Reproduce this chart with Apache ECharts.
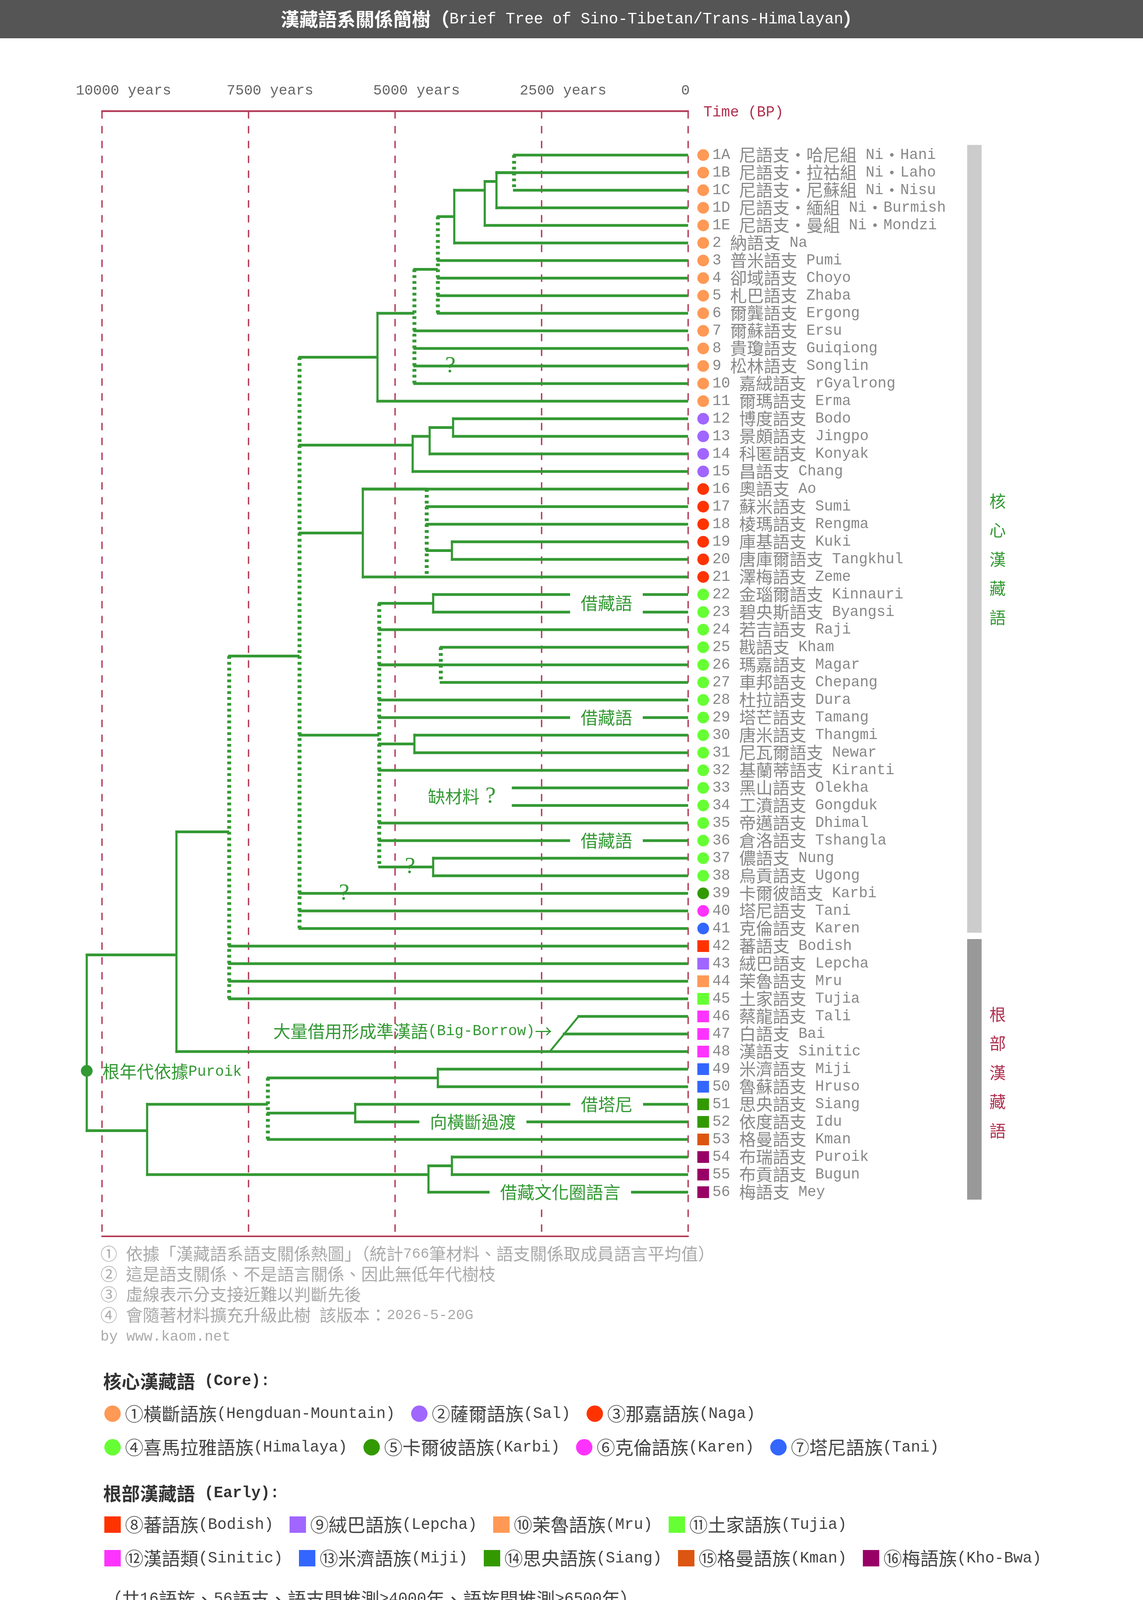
<!DOCTYPE html>
<html><head><meta charset="utf-8">
<script src="https://cdn.jsdelivr.net/npm/echarts@6/dist/echarts.min.js"></script>
<style>html,body{margin:0;padding:0;background:#fff}#c{width:2925px;height:4276px}</style>
</head><body><div id="c"></div>
<script>
// ================= DATA =================
const timeTicks = [0, 2500, 5000, 7500, 10000];   // years BP
const leafCodes = ['1A','1B','1C','1D','1E','2','3','4','5','6','7','8','9','10','11','12','13','14','15','16','17','18','19','20','21','22','23','24','25','26','27','28','29','30','31','32','33','34','35','36','37','38','39','40','41','42','43','44','45','46','47','48','49','50','51','52','53','54','55','56'];
const leafZh = ['尼語支・哈尼組','尼語支・拉祜組','尼語支・尼蘇組','尼語支・緬組','尼語支・曼組','納語支','普米語支','卻域語支','札巴語支','爾龔語支','爾蘇語支','貴瓊語支','松林語支','嘉絨語支','爾瑪語支','博度語支','景頗語支','科匿語支','昌語支','奧語支','蘇米語支','棱瑪語支','庫基語支','唐庫爾語支','澤梅語支','金瑙爾語支','碧央斯語支','若吉語支','戡語支','瑪嘉語支','車邦語支','杜拉語支','塔芒語支','唐米語支','尼瓦爾語支','基蘭蒂語支','黑山語支','工濆語支','帝邁語支','倉洛語支','儂語支','烏貢語支','卡爾彼語支','塔尼語支','克倫語支','蕃語支','絨巴語支','茉魯語支','土家語支','蔡龍語支','白語支','漢語支','米濟語支','魯蘇語支','思央語支','依度語支','格曼語支','布瑞語支','布貢語支','梅語支'];
const leafEn = ['Ni・Hani','Ni・Laho','Ni・Nisu','Ni・Burmish','Ni・Mondzi','Na','Pumi','Choyo','Zhaba','Ergong','Ersu','Guiqiong','Songlin','rGyalrong','Erma','Bodo','Jingpo','Konyak','Chang','Ao','Sumi','Rengma','Kuki','Tangkhul','Zeme','Kinnauri','Byangsi','Raji','Kham','Magar','Chepang','Dura','Tamang','Thangmi','Newar','Kiranti','Olekha','Gongduk','Dhimal','Tshangla','Nung','Ugong','Karbi','Tani','Karen','Bodish','Lepcha','Mru','Tujia','Tali','Bai','Sinitic','Miji','Hruso','Siang','Idu','Kman','Puroik','Bugun','Mey'];
// colour group (index into families) of each leaf, as drawn
const leafFamily = [0,0,0,0,0,0,0,0,0,0,0,0,0,0,0, 1,1,1,1, 2,2,2,2,2,2, 3,3,3,3,3,3,3,3,3,3,3,3,3,3,3,3,3, 4,5,6, 7,8,9,10, 11,11,11, 12,12, 13,13, 14, 15,15,15];
const familyNames = ['①橫斷語族(Hengduan-Mountain)','②薩爾語族(Sal)','③那嘉語族(Naga)','④喜馬拉雅語族(Himalaya)','⑤卡爾彼語族(Karbi)','⑥克倫語族(Karen)','⑦塔尼語族(Tani)','⑧蕃語族(Bodish)','⑨絨巴語族(Lepcha)','⑩茉魯語族(Mru)','⑪土家語族(Tujia)','⑫漢語類(Sinitic)','⑬米濟語族(Miji)','⑭思央語族(Siang)','⑮格曼語族(Kman)','⑯梅語族(Kho-Bwa)'];
const familyIsCore = [1,1,1,1,1,1,1,0,0,0,0,0,0,0,0,0];
// internal nodes: [id, age (years BP), span top row, span bottom row, join row, parent id, dotted]
const nodes = [
  ['root', 10260, 45.5, 55.5, null, null, 0],
  ['nS', 8730, 38.5, 51, 45.5, 'root', 0],
  ['nT', 9230, 54, 58, 55.5, 'root', 0],
  ['nR', 7830, 28.5, 48, 38.5, 'nS', 1],
  ['nH', 6630, 11.5, 44, 28.5, 'nR', 1],
  ['nG', 5300, 9, 14, 11.5, 'nH', 0],
  ['nF', 4670, 6.5, 13, 9, 'nG', 1],
  ['nE', 4270, 3.5, 9, 6.5, 'nF', 1],
  ['nD', 3990, 2, 5, 3.5, 'nE', 0],
  ['nC', 3470, 1.5, 4, 2, 'nD', 0],
  ['nB', 3270, 1, 3, 1.5, 'nC', 0],
  ['nA', 2970, 0, 2, 1, 'nB', 1],
  ['nK', 4700, 16, 18, 16.5, 'nH', 0],
  ['nJ', 4410, 15.5, 17, 16, 'nK', 0],
  ['nI', 4010, 15, 16, 15.5, 'nJ', 0],
  ['nL', 5550, 19, 24, 21.5, 'nH', 0],
  ['nL2', 4460, 19, 24, 19, 'nL', 1],
  ['nL3', 4030, 22, 23, 22.5, 'nL2', 0],
  ['nM', 5270, 25.5, 40.5, 33, 'nH', 1],
  ['nN', 4350, 25, 26, 25.5, 'nM', 0],
  ['nO', 4220, 28, 30, 29, 'nM', 1],
  ['nP', 4670, 33, 34, 33.5, 'nM', 0],
  ['nQ', 4350, 40, 41, 40.5, 'nM', 0],
  ['nU', 7170, 52.5, 56, 54, 'nT', 1],
  ['nV', 4270, 52, 53, 52.5, 'nU', 0],
  ['nW', 5680, 54, 55, 54.5, 'nU', 0],
  ['nX', 4430, 57.5, 59, 58, 'nT', 0],
  ['nY', 4030, 57, 58, 57.5, 'nX', 0],
  ['noData', 2990, null, null, null, null, 0],
  ['tali', 1870, null, null, null, null, 0],
  ['bai', 2120, null, null, null, null, 0]
];
const leafParent = ['nA','nB','nA','nB','nC','nD','nE','nE','nE','nE','nF','nF','nF','nF','nG','nI','nI','nJ','nK','nL','nL2','nL2','nL3','nL3','nL','nN','nN','nM','nO','nM','nO','nM','nM','nP','nP','nM','noData','noData','nM','nM','nQ','nQ','nH','nH','nH','nR','nR','nR','nR','tali','bai','nS','nV','nV','nW','nW','nU','nY','nY','nX'];
const borrowLink = [[2360, 51], [1870, 49]];
const rootMark = [10260, 52.1];
// annotations: [text, age, row, kind]
const notes = [
  ['?', 4056, 12, 'q'],
  ['借藏語', 1394, 25.5, 'gap'],
  ['借藏語', 1394, 32, 'gap'],
  ['缺材料 ?', 3862, 36.5, 'plain'],
  ['借藏語', 1394, 39, 'gap'],
  ['?', 4745, 40.5, 'q'],
  ['?', 5870, 42, 'q'],
  ['大量借用形成準漢語(Big-Borrow)→', 2321, 49.85, 'right'],
  ['根年代依據Puroik', 10260, 52.15, 'left'],
  ['借塔尼', 1390, 54, 'gap'],
  ['向橫斷過渡', 3672, 55, 'gap'],
  ['借藏文化圈語言', 2181, 59, 'gap']
];
// side group bars: [label, top row, bottom row, label centre row]
const groups = [['核心漢藏語', -0.58, 44.24, 23.0], ['根部漢藏語', 44.6, 59.42, 52.2]];
const footnotes = ['① 依據「漢藏語系語支關係熱圖」（統計766筆材料、語支關係取成員語言平均值）','② 這是語支關係、不是語言關係、因此無低年代樹枝','③ 虛線表示分支接近難以判斷先後','④ 會隨著材料擴充升級此樹 該版本：2026-5-20G','by www.kaom.net'];
const legendHeaders = ['核心漢藏語 (Core):', '根部漢藏語 (Early):'];
const legendRows = [[0,1,2],[3,4,5,6],[7,8,9,10],[11,12,13,14,15]];
const summary = '（共16語族、56語支、語支間推測>4000年、語族間推測>6500年）';
const titleText = '漢藏語系關係簡樹（Brief Tree of Sino-Tibetan/Trans-Himalayan）';

// ================= STYLE =================
const GREEN = '#339933', CRIMSON = '#b33a56', CRIMSON_T = '#b0304f';
const familyColors = ['#ff9955','#a066ff','#ff3300','#66ff33','#339900','#ff33ff','#3366ff','#ff3300','#a066ff','#ff9955','#66ff33','#ff33ff','#3366ff','#339900','#dd5511','#990066'];
const groupStyle = [{bar:'#cccccc', text: GREEN}, {bar:'#999999', text: CRIMSON_T}];
const CJKF = '"Noto Sans CJK TC", "Noto Sans CJK SC", sans-serif';
const MONO = '"Liberation Mono", "DejaVu Sans Mono", monospace';
const SERIF = '"Liberation Serif", serif';
const HW = 7, VW = 5.5, DW = 10;

const CJK_CLASS = '\\u2190-\\u21FF\\u2460-\\u24FF\\u2E80-\\u303F\\u30A0-\\u30FF\\u3400-\\u9FFF\\uF900-\\uFAFF\\uFF00-\\uFFEF';
const RUN_RE = new RegExp('[' + CJK_CLASS + ']+|[^' + CJK_CLASS + ']+', 'g');
const IS_CJK = new RegExp('^[' + CJK_CLASS + ']');
function toRich(s, c, l) {
  return (s.match(RUN_RE) || []).map(r => '{' + (IS_CJK.test(r) ? c : l) + '|' + r + '}').join('');
}
const mctx = document.createElement('canvas').getContext('2d');
function richWidth(s, cFont, lFont) {
  let w = 0;
  (s.match(RUN_RE) || []).forEach(r => { mctx.font = IS_CJK.test(r) ? cFont : lFont; w += mctx.measureText(r).width; });
  return w;
}
function rs(size, family, fill, weight, lh) {
  return {fontSize: size, fontFamily: family, fill: fill, fontWeight: weight || 'normal', verticalAlign: 'middle', lineHeight: lh || Math.round(size * 1.1)};
}

// ================= BUILD =================
const nodeById = {};
nodes.forEach(n => { nodeById[n[0]] = n; });
const segs = [];
nodes.forEach(n => {
  if (n[2] !== null) segs.push([n[1], n[2], n[1], n[3], n[6] ? 2 : 1]);
  if (n[5]) segs.push([n[1], n[4], nodeById[n[5]][1], n[4], 0]);
});
leafParent.forEach((pid, i) => segs.push([0, i, nodeById[pid][1], i, 0]));
segs.push([borrowLink[0][0], borrowLink[0][1], borrowLink[1][0], borrowLink[1][1], 3]);
segs.push([rootMark[0], rootMark[1], rootMark[0], rootMark[1], 4]);

function renderSeg(params, api) {
  const k = api.value(4);
  const a = api.coord([api.value(0), api.value(1)]);
  const b = api.coord([api.value(2), api.value(3)]);
  const style = {stroke: GREEN, fill: null, lineCap: 'butt'};
  let shape;
  if (k === 4) return {type: 'circle', shape: {cx: a[0], cy: a[1], r: 15}, style: {fill: GREEN}};
  if (k === 0) {
    shape = {x1: Math.min(a[0], b[0]) - VW / 2, y1: a[1], x2: Math.max(a[0], b[0]), y2: a[1]};
    style.lineWidth = HW;
  } else if (k === 1) {
    shape = {x1: a[0], y1: Math.min(a[1], b[1]) - HW / 2, x2: a[0], y2: Math.max(a[1], b[1]) + HW / 2};
    style.lineWidth = VW;
  } else if (k === 2) {
    shape = {x1: a[0], y1: Math.min(a[1], b[1]), x2: a[0], y2: Math.max(a[1], b[1])};
    style.lineWidth = DW; style.lineDash = [7, 8];
  } else {
    shape = {x1: a[0], y1: a[1], x2: b[0], y2: b[1]};
    style.lineWidth = 5;
  }
  return {type: 'line', shape: shape, style: style};
}

const LEAF_RICH = {c: rs(43, CJKF, '#888888', 'normal', 46), l: rs(38, MONO, '#888888', 'normal', 46)};
function renderLeaf(params, api) {
  const i = params.dataIndex;
  const p = api.coord([0, i]);
  const fam = leafFamily[i];
  const color = familyColors[fam];
  const mx = p[0] + 38.5, my = p[1];
  const marker = familyIsCore[fam]
    ? {type: 'circle', shape: {cx: mx, cy: my, r: 15}, style: {fill: color}}
    : {type: 'rect', shape: {x: mx - 15, y: my - 15, width: 30, height: 30}, style: {fill: color}};
  const label = leafCodes[i] + ' ' + leafZh[i] + ' ' + leafEn[i];
  return {type: 'group', children: [marker, {type: 'text', x: p[0] + 62, y: my,
    style: {text: toRich(label, 'c', 'l'), rich: LEAF_RICH, fill: '#888888', align: 'left', verticalAlign: 'middle'}}]};
}

const NOTE_RICH = {c: rs(44, CJKF, GREEN, 'normal', 52), l: rs(38, MONO, GREEN, 'normal', 52), q: rs(60, SERIF, GREEN, 'normal', 52)};
function renderNote(params, api) {
  const n = notes[params.dataIndex];
  const p = api.coord([n[1], n[2]]);
  const kind = n[3];
  const style = {text: toRich(n[0], 'c', (kind === 'q' || kind === 'plain') ? 'q' : 'l'), rich: NOTE_RICH, fill: GREEN,
    align: kind === 'right' ? 'right' : (kind === 'left' ? 'left' : 'center'), verticalAlign: 'middle'};
  let x = p[0];
  if (kind === 'left') x += 40;
  if (kind === 'gap') { style.backgroundColor = '#ffffff'; style.padding = [4, 27]; }
  return {type: 'text', x: x, y: p[1], style: style};
}

function renderGroup(params, api) {
  const g = groups[params.dataIndex];
  const st = groupStyle[params.dataIndex];
  const t = api.coord([0, g[1]]), b = api.coord([0, g[2]]), c = api.coord([0, g[3]]);
  return {type: 'group', children: [
    {type: 'rect', shape: {x: t[0] + 714, y: t[1], width: 37, height: b[1] - t[1]}, style: {fill: st.bar}},
    {type: 'text', x: t[0] + 792, y: c[1], style: {text: g[0].split('').join('\n'), fill: st.text, fontSize: 42, fontFamily: CJKF, lineHeight: 74.5, align: 'center', verticalAlign: 'middle'}}
  ]};
}

// ---------- graphic (title, footnotes, legend) ----------
const graphics = [];
graphics.push({type: 'rect', shape: {x: 0, y: 0, width: 2925, height: 98}, style: {fill: '#555555'}, z: 0});
graphics.push({type: 'text', x: 1462, y: 49, style: {text: toRich(titleText, 'c', 'l'), align: 'center', verticalAlign: 'middle', fill: '#ffffff',
  rich: {c: rs(48, CJKF, '#ffffff', 'bold', 56), l: rs(40, MONO, '#ffffff', 'normal', 56)}}, z: 1});
graphics.push({type: 'text', x: 1800, y: 288, style: {text: 'Time (BP)', fontSize: 38, fontFamily: MONO, fill: CRIMSON_T, align: 'left', verticalAlign: 'middle'}});
const footY = [3210, 3262, 3314, 3367, 3422];
footnotes.forEach((t, i) => {
  graphics.push({type: 'text', x: 257, y: footY[i], style: {text: toRich(t, 'c', 'l'), fill: '#aaaaaa', align: 'left', verticalAlign: 'middle',
    rich: {c: rs(43, CJKF, '#aaaaaa', 'normal', 48), l: rs(37, MONO, '#aaaaaa', 'normal', 48)}}});
});
const HEAD_RICH = {c: rs(47, CJKF, '#333333', 'bold', 54), l: rs(40, MONO, '#333333', 'bold', 54)};
const LEG_RICH = {c: rs(47, CJKF, '#444444', 'normal', 54), l: rs(40, MONO, '#444444', 'normal', 54)};
const headY = [3536, 3823];
legendHeaders.forEach((t, i) => {
  graphics.push({type: 'text', x: 264, y: headY[i], style: {text: toRich(t, 'c', 'l'), rich: HEAD_RICH, fill: '#333333', align: 'left', verticalAlign: 'middle'}});
});
const rowY = [3619, 3705, 3903, 3989];
legendRows.forEach((row, ri) => {
  let x = 267;
  const y = rowY[ri];
  row.forEach(fi => {
    const col = familyColors[fi];
    if (familyIsCore[fi]) graphics.push({type: 'circle', shape: {cx: x + 21, cy: y, r: 21}, style: {fill: col}});
    else graphics.push({type: 'rect', shape: {x: x, y: y - 21, width: 42, height: 42}, style: {fill: col}});
    graphics.push({type: 'text', x: x + 53, y: y, style: {text: toRich(familyNames[fi], 'c', 'l'), rich: LEG_RICH, fill: '#444444', align: 'left', verticalAlign: 'middle'}});
    const w = richWidth(familyNames[fi], '47px "Noto Sans CJK TC"', '40px "Liberation Mono"');
    x += 53 + w + 41;
  });
});
graphics.push({type: 'text', x: 264, y: 4093, style: {text: toRich(summary, 'c', 'l'), rich: LEG_RICH, fill: '#444444', align: 'left', verticalAlign: 'middle'}});

// ================= CHART =================
const chart = echarts.init(document.getElementById('c'), null, {renderer: 'canvas', width: 2925, height: 4276});
chart.setOption({
  animation: false,
  backgroundColor: '#ffffff',
  grid: {left: 261, right: 1164, top: 284.5, bottom: 1111.5, containLabel: false},
  xAxis: [{
    type: 'value', position: 'top', inverse: true, min: timeTicks[0], max: timeTicks[timeTicks.length - 1], interval: 2500,
    axisLine: {show: true, onZero: false, lineStyle: {color: CRIMSON, width: 4.5}},
    axisTick: {show: false},
    axisLabel: {show: true, margin: 32, showMinLabel: true, showMaxLabel: true,
      formatter: v => v === 0 ? '{z|0}' : '{y|' + v + ' years}',
      rich: {y: {fontFamily: MONO, fontSize: 37, color: '#666666', padding: [0, 0, 0, 110], lineHeight: 40},
             z: {fontFamily: MONO, fontSize: 37, color: '#666666', padding: [0, 14, 0, 0], lineHeight: 40}}},
    splitLine: {show: true, showMinLine: true, showMaxLine: true, lineStyle: {color: CRIMSON, width: 3.5, type: [19, 19]}}
  }, {
    type: 'value', position: 'bottom', inverse: true, min: 0, max: 10000, interval: 2500,
    axisLine: {show: true, onZero: false, lineStyle: {color: CRIMSON, width: 4}},
    axisTick: {show: false}, axisLabel: {show: false}, splitLine: {show: false}
  }],
  yAxis: {type: 'value', min: -2.5, max: 61.5, inverse: true, show: false, splitLine: {show: false}},
  graphic: graphics,
  series: [
    {type: 'custom', coordinateSystem: 'cartesian2d', clip: false, z: 2, renderItem: renderSeg, data: segs, silent: true},
    {type: 'custom', coordinateSystem: 'cartesian2d', clip: false, z: 3, renderItem: renderNote, data: notes.map(n => [n[1], n[2]]), silent: true},
    {type: 'custom', coordinateSystem: 'cartesian2d', clip: false, z: 3, renderItem: renderLeaf, data: leafCodes.map((c, i) => [0, i]), silent: true},
    {type: 'custom', coordinateSystem: 'cartesian2d', clip: false, z: 1, renderItem: renderGroup, data: groups.map(g => [0, g[1]]), silent: true}
  ]
});
</script></body></html>
